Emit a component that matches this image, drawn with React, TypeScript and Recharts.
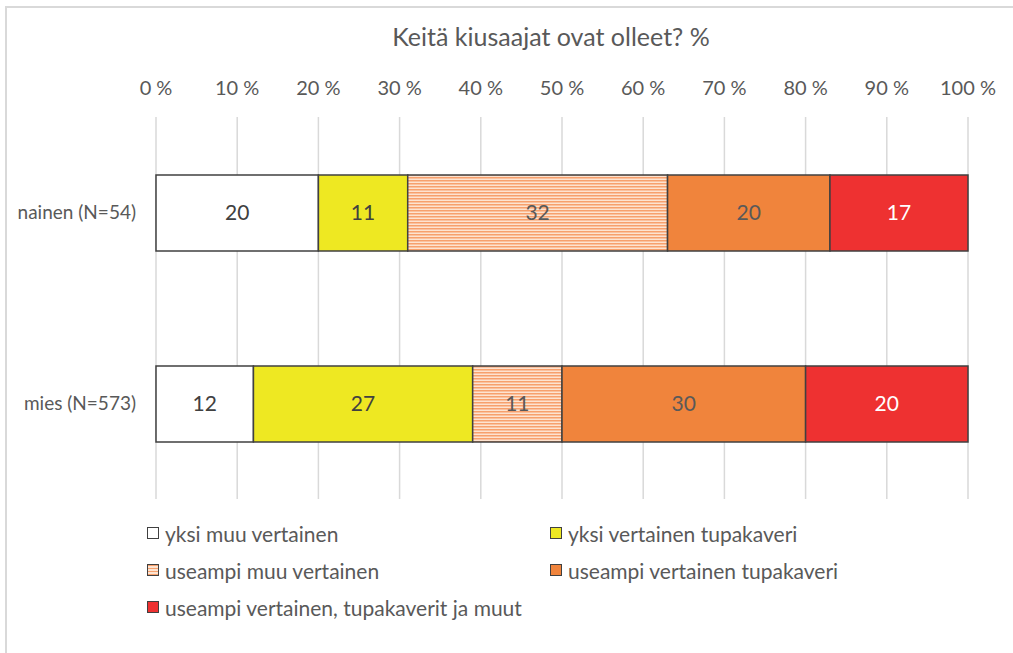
import { Bar, BarChart, CartesianGrid, LabelList, XAxis, YAxis } from "recharts";

const categories = ["nainen (N=54)", "mies (N=573)"];
const yksiMuu = [20, 12];
const yksiTupa = [11, 27];
const useampiMuu = [32, 11];
const useampiTupa = [20, 30];
const useampiKaikki = [17, 20];
const xTicks = [0, 10, 20, 30, 40, 50, 60, 70, 80, 90, 100];

const data = categories.map((name, i) => ({
  name,
  yksiMuu: yksiMuu[i],
  yksiTupa: yksiTupa[i],
  useampiMuu: useampiMuu[i],
  useampiTupa: useampiTupa[i],
  useampiKaikki: useampiKaikki[i],
}));

const FONT = "Lato, 'Open Sans', sans-serif";
const TEXT = "#595959";
const EDGE = "#404040";

const stripeCss = "repeating-linear-gradient(180deg, #f7a06c 0px, #f7a06c 1.5px, #fde3d0 1.5px, #fde3d0 3px)";

const legendItems = [
  { label: "yksi muu vertainen", bg: "#ffffff", x: 147, y: 533 },
  { label: "yksi vertainen tupakaveri", bg: "#eee822", x: 550, y: 533 },
  { label: "useampi muu vertainen", bg: stripeCss, x: 147, y: 570 },
  { label: "useampi vertainen tupakaveri", bg: "#f0843c", x: 550, y: 570 },
  { label: "useampi vertainen, tupakaverit ja muut", bg: "#ee3131", x: 147, y: 607 },
];

export default function App() {
  return (
    <div
      style={{
        position: "fixed",
        left: 0,
        top: 0,
        width: 1013,
        height: 653,
        background: "#fff",
        overflow: "hidden",
        fontFamily: FONT,
      }}
    >
      <div
        style={{
          position: "absolute",
          left: 5,
          top: 6,
          width: 1040,
          height: 680,
          border: "2px solid #d9d9d9",
        }}
      />
      <div
        style={{
          position: "absolute",
          left: 0,
          width: 1102,
          top: 21,
          textAlign: "center",
          fontSize: 25,
          color: TEXT,
        }}
      >
        Keitä kiusaajat ovat olleet? %
      </div>
      <BarChart
        width={1013}
        height={653}
        data={data}
        layout="vertical"
        margin={{ top: 87, right: 45, bottom: 154, left: 0 }}
        barSize={76}
        style={{ position: "absolute", left: 0, top: 0 }}
      >
        <defs>
          <pattern id="stripes" width="6" height="3" patternUnits="userSpaceOnUse">
            <rect width="6" height="3" fill="#fde3d0" />
            <rect width="6" height="1.5" fill="#f7a06c" />
          </pattern>
        </defs>
        <CartesianGrid horizontal={false} stroke="#d9d9d9" strokeWidth={1.5} />
        <XAxis
          type="number"
          orientation="top"
          domain={[0, 100]}
          ticks={xTicks}
          tickFormatter={(v) => `${v} %`}
          axisLine={false}
          tickLine={false}
          tickSize={0}
          tickMargin={22}
          height={30}
          tick={{ fill: TEXT, fontSize: 20, fontFamily: FONT }}
        />
        <YAxis
          type="category"
          dataKey="name"
          width={156}
          axisLine={false}
          tickLine={false}
          tickSize={0}
          tickMargin={20}
          tick={{ fill: TEXT, fontSize: 19, fontFamily: FONT }}
        />
        <Bar dataKey="yksiMuu" stackId="a" fill="#ffffff" stroke={EDGE} strokeWidth={1.5} isAnimationActive={false}>
          <LabelList dataKey="yksiMuu" position="center" fill={EDGE} fontSize={21} fontFamily={FONT} />
        </Bar>
        <Bar dataKey="yksiTupa" stackId="a" fill="#eee822" stroke={EDGE} strokeWidth={1.5} isAnimationActive={false}>
          <LabelList dataKey="yksiTupa" position="center" fill={EDGE} fontSize={21} fontFamily={FONT} />
        </Bar>
        <Bar dataKey="useampiMuu" stackId="a" fill="url(#stripes)" stroke={EDGE} strokeWidth={1.5} isAnimationActive={false}>
          <LabelList dataKey="useampiMuu" position="center" fill={TEXT} fontSize={21} fontFamily={FONT} />
        </Bar>
        <Bar dataKey="useampiTupa" stackId="a" fill="#f0843c" stroke={EDGE} strokeWidth={1.5} isAnimationActive={false}>
          <LabelList dataKey="useampiTupa" position="center" fill={TEXT} fontSize={21} fontFamily={FONT} />
        </Bar>
        <Bar dataKey="useampiKaikki" stackId="a" fill="#ee3131" stroke={EDGE} strokeWidth={1.5} isAnimationActive={false}>
          <LabelList dataKey="useampiKaikki" position="center" fill="#ffffff" fontSize={21} fontFamily={FONT} />
        </Bar>
      </BarChart>
      {legendItems.map((it) => (
        <div
          key={it.label}
          style={{
            position: "absolute",
            left: it.x,
            top: it.y - 13,
            height: 26,
            display: "flex",
            alignItems: "center",
            fontSize: 21,
            color: TEXT,
            whiteSpace: "nowrap",
          }}
        >
          <span
            style={{
              display: "inline-block",
              width: 10,
              height: 10,
              border: `1.5px solid ${EDGE}`,
              background: it.bg,
              marginRight: 6,
            }}
          />
          {it.label}
        </div>
      ))}
    </div>
  );
}
